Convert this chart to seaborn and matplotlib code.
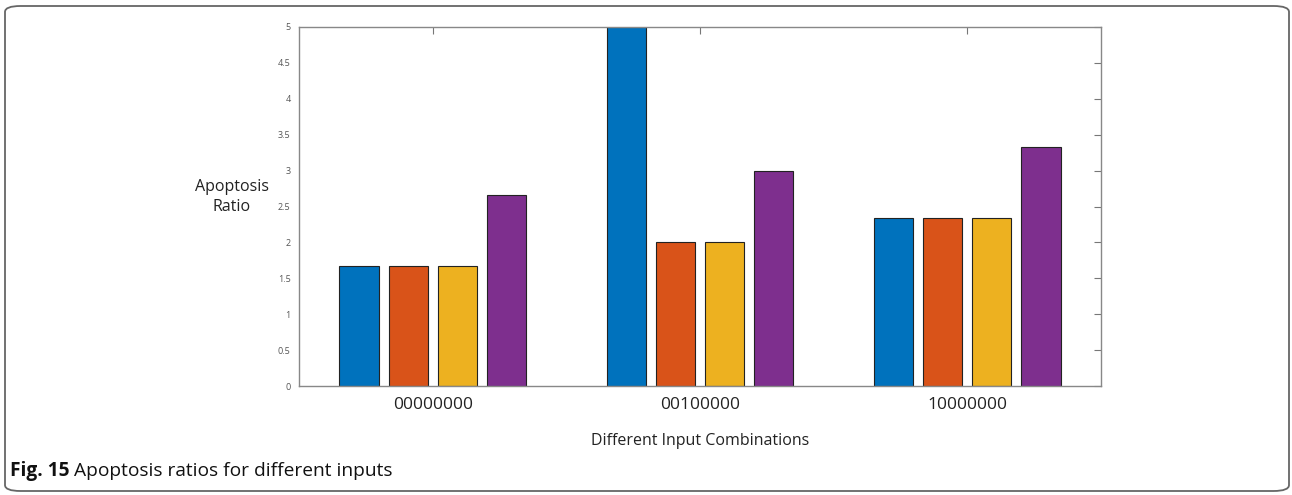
import pandas as pd
import matplotlib.pyplot as plt
import seaborn as sns
from matplotlib.patches import FancyBboxPatch

combinations = ['00000000', '00100000', '10000000']
series = ['s1', 's2', 's3', 's4']
s1 = [1.667, 5.0, 2.333]
s2 = [1.667, 2.0, 2.333]
s3 = [1.667, 2.0, 2.333]
s4 = [2.667, 3.0, 3.333]
colors = ['#0072BD', '#D95319', '#EDB120', '#7E2F8E']

rows = []
for name, vals in zip(series, [s1, s2, s3, s4]):
    for comb, v in zip(combinations, vals):
        rows.append({'combination': comb, 'series': name, 'ratio': v})
df = pd.DataFrame(rows)

sns.set_style('white')
plt.rcParams['font.family'] = ['Open Sans', 'DejaVu Sans']

fig = plt.figure(figsize=(12.92, 4.95), dpi=100)
ax = fig.add_axes([299 / 1292, 1 - 386 / 495, 802 / 1292, 359 / 495])

sns.barplot(data=df, x='combination', y='ratio', hue='series',
            palette=colors, saturation=1, width=0.734, gap=0.2, ax=ax,
            edgecolor='#222222', linewidth=0.8, legend=False)

ax.set_xlim(-0.5, 2.5)
ax.set_ylim(0, 5)
ax.set_yticks([0, 0.5, 1, 1.5, 2, 2.5, 3, 3.5, 4, 4.5, 5])
ax.set_yticklabels(['0', '0.5', '1', '1.5', '2', '2.5', '3', '3.5', '4',
                    '4.5', '5'])
ax.tick_params(axis='y', direction='in', length=5, width=0.8,
               color='#777777', labelsize=6.5, labelcolor='#555555',
               right=True, pad=6)
ax.tick_params(axis='x', direction='in', length=5, width=0.8,
               color='#777777', labelsize=12.5, labelcolor='#222222',
               top=True, pad=8)
for sp in ax.spines.values():
    sp.set_color('#888888')
    sp.set_linewidth(1.0)

ax.set_xlabel('Different Input Combinations', fontsize=11.5,
              color='#222222', labelpad=14)
ax.set_ylabel('')
fig.text(232 / 1292, 1 - 197 / 495, 'Apoptosis\nRatio', ha='center',
         va='center', fontsize=11.5, color='#222222', linespacing=1.3)

# caption
t = fig.text(10 / 1292, 1 - 471 / 495, 'Fig. 15', fontsize=13.8,
             fontweight='bold', va='center', color='#111111')
fig.canvas.draw()
bb = t.get_window_extent()
fig.text((bb.x1 + 5) / 1292, 1 - 471 / 495,
         'Apoptosis ratios for different inputs', fontsize=13.8,
         va='center', color='#111111')

box = FancyBboxPatch((5 / 1292, 4 / 495), 1284 / 1292, 485 / 495,
                     boxstyle='round,pad=0,rounding_size=0.012',
                     transform=fig.transFigure, fill=False,
                     edgecolor='#666666', linewidth=1.3)
fig.patches.append(box)

fig.savefig('out.png', dpi=100)
